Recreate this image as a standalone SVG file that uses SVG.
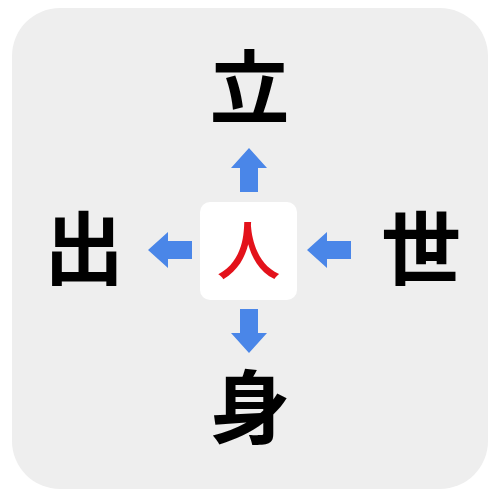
<svg xmlns="http://www.w3.org/2000/svg" width="500" height="500" viewBox="0 0 500 500">
  <style>
    .k { font-family: "Noto Sans CJK JP", "Noto Sans CJK SC", sans-serif; font-weight: 700; font-size: 80px; fill: #000; text-anchor: middle; }
    .c { font-family: "Noto Sans CJK JP", "Noto Sans CJK SC", sans-serif; font-weight: 500; font-size: 64px; fill: #e3121b; text-anchor: middle; }
    .arr { fill: #4a86e8; }
  </style>
  <defs>
    <path id="arrowUp" d="M0,-22 L18,-2 L9,-2 L9,22 L-9,22 L-9,-2 L-18,-2 Z"/>
  </defs>
  <rect x="12" y="8" width="476" height="481" rx="48" ry="48" fill="#eeeeee"/>
  <g id="center">
    <rect x="200" y="202" width="97" height="98" rx="10" ry="10" fill="#ffffff"/>
    <text class="c" x="248.5" y="274">人</text>
  </g>
  <g id="top"><text class="k" x="249.5" y="117">立</text></g>
  <g id="left"><text class="k" x="84" y="278">出</text></g>
  <g id="right"><text class="k" x="421" y="278">世</text></g>
  <g id="bottom"><text class="k" x="250" y="437">身</text></g>
  <g id="connectors" class="arr">
    <use href="#arrowUp" transform="translate(249,170)"/>
    <use href="#arrowUp" transform="translate(170,250) rotate(-90)"/>
    <use href="#arrowUp" transform="translate(329,250) rotate(-90)"/>
    <use href="#arrowUp" transform="translate(249,331) rotate(180)"/>
  </g>
</svg>
